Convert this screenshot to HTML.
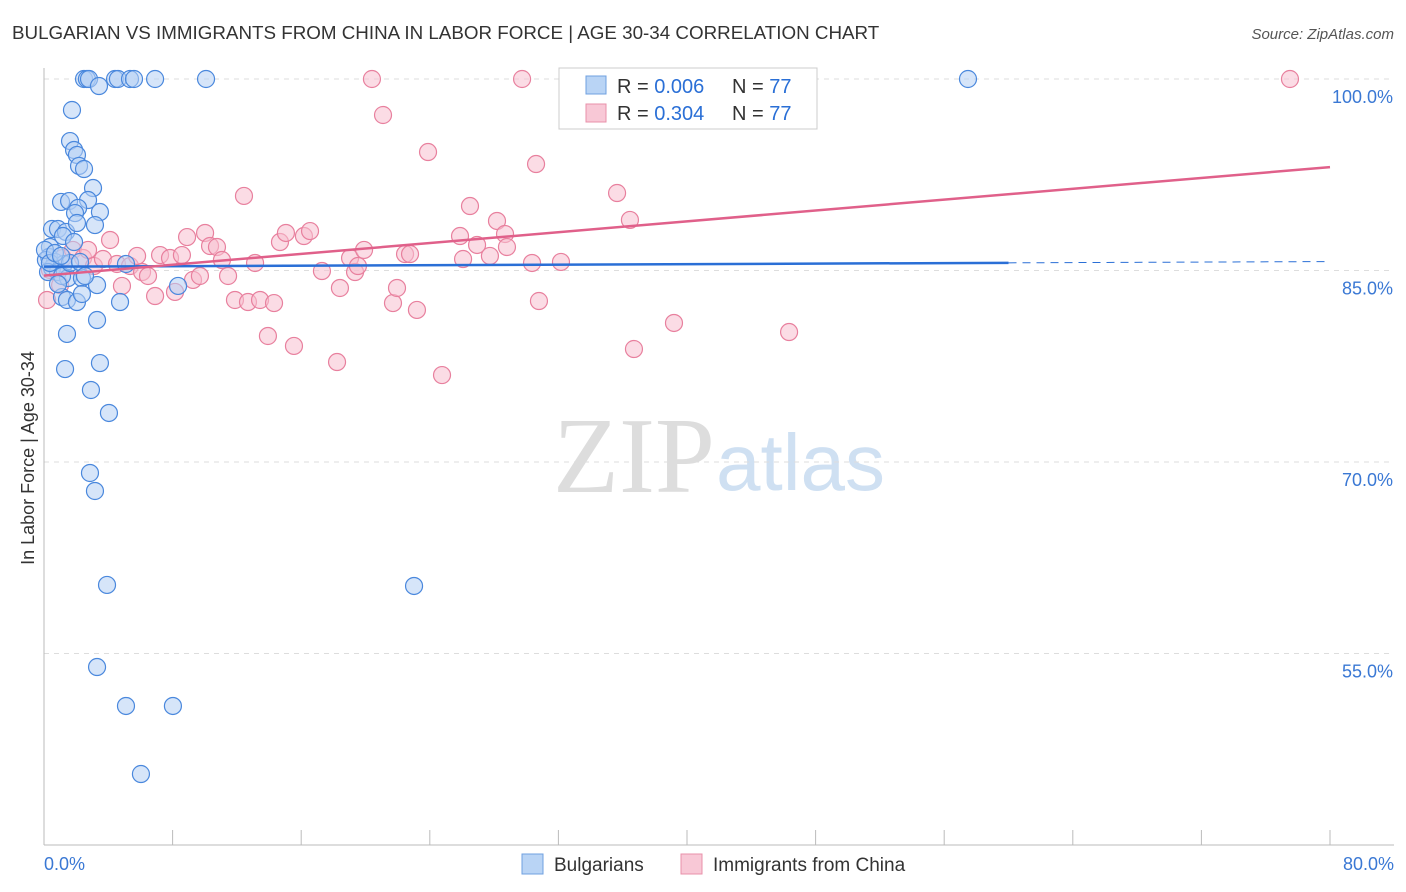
<!DOCTYPE html>
<html><head><meta charset="utf-8"><style>
body{margin:0;background:#fff;font-family:"Liberation Sans",sans-serif;}
svg{display:block}
</style></head><body>
<svg id="c" width="1406" height="892">
<text x="12" y="39" font-size="18.8" fill="#333">BULGARIAN VS IMMIGRANTS FROM CHINA IN LABOR FORCE | AGE 30-34 CORRELATION CHART</text>
<text x="1394" y="39" font-size="15" fill="#555" font-style="italic" text-anchor="end">Source: ZipAtlas.com</text>
<text x="34" y="458" font-size="18" fill="#333" text-anchor="middle" transform="rotate(-90 34 458)">In Labor Force | Age 30-34</text>
<text x="553" y="492" font-size="108" fill="#ddd" font-family="Liberation Serif,serif">ZIP</text>
<text x="716" y="490" font-size="80" fill="#cfe0f2">atlas</text>
<g id="grid"></g><g id="pts"></g><g id="lines"></g>
<g>
<rect x="559" y="68" width="258" height="61" fill="#fff" stroke="#ccc"/>
<rect x="586" y="76" width="20" height="18" fill="#b9d4f5" stroke="#6fa0e0"/>
<text x="617" y="93" font-size="20" fill="#333">R = <tspan fill="#2a6fd6">0.006</tspan></text>
<text x="732" y="93" font-size="20" fill="#333">N = <tspan fill="#2a6fd6">77</tspan></text>
<rect x="586" y="104" width="20" height="18" fill="#f8c8d6" stroke="#e890aa"/>
<text x="617" y="120" font-size="20" fill="#333">R = <tspan fill="#2a6fd6">0.304</tspan></text>
<text x="732" y="120" font-size="20" fill="#333">N = <tspan fill="#2a6fd6">77</tspan></text>
</g>
<g>
<rect x="522" y="854" width="21" height="20" fill="#b9d4f5" stroke="#6fa0e0"/>
<text x="554" y="871" font-size="19" fill="#333">Bulgarians</text>
<rect x="681" y="854" width="21" height="20" fill="#f8c8d6" stroke="#e890aa"/>
<text x="713" y="871" font-size="19" fill="#333">Immigrants from China</text>
</g>
</svg>
<script>
const X0=44,X1=1330,Y100=79,PXY=191.5/15;
const xTicks=[0,8,16,24,32,40,48,56,64,72,80];
const yTicks=[100,85,70,55];
const bluePx=[[84,79],[87,79],[89,79],[99,86],[115,79],[118,79],[130,79],[134,79],[155,79],[206,79],[968,79],[72,110],[70,141],[74,150],[77,155],[79,166],[84,169],[93,188],[61,202],[69,201],[88,200],[78,208],[75,213],[100,212],[52,229],[58,229],[66,232],[63,236],[77,223],[95,225],[74,242],[50,247],[49,257],[55,262],[64,264],[52,268],[58,272],[68,278],[82,278],[97,285],[62,297],[67,300],[77,302],[82,294],[120,302],[126,264],[97,320],[67,334],[65,369],[100,363],[91,390],[109,413],[90,473],[95,491],[107,585],[414,586],[97,667],[126,706],[173,706],[141,774],[178,286],[46,260],[48,272],[62,276],[58,284],[45,250],[50,263],[55,253],[70,263],[61,256],[80,262],[85,276]];
const pinkPx=[[47,300],[50,270],[56,267],[60,285],[63,258],[73,250],[83,258],[88,250],[94,266],[103,259],[110,240],[117,264],[122,286],[130,266],[137,256],[142,272],[148,276],[155,296],[160,255],[170,258],[175,292],[182,255],[187,237],[193,280],[200,276],[205,233],[210,246],[217,247],[222,260],[228,276],[235,300],[244,196],[248,302],[255,263],[260,300],[268,336],[274,303],[280,242],[286,233],[294,346],[304,236],[310,231],[322,271],[337,362],[340,288],[350,258],[355,272],[358,266],[364,250],[372,79],[383,115],[393,303],[397,288],[405,254],[410,254],[417,310],[428,152],[442,375],[460,236],[463,259],[470,206],[477,245],[490,256],[497,221],[505,234],[507,247],[522,79],[532,263],[536,164],[539,301],[561,262],[573,79],[617,193],[630,220],[634,349],[674,323],[789,332],[1290,79]];
const blueX=bluePx.map(p=>+((p[0]-X0)/(X1-X0)*80).toFixed(2));
const blueY=bluePx.map(p=>+(100-(p[1]-Y100)/PXY).toFixed(2));
const pinkX=pinkPx.map(p=>+((p[0]-X0)/(X1-X0)*80).toFixed(2));
const pinkY=pinkPx.map(p=>+(100-(p[1]-Y100)/PXY).toFixed(2));
const blueTrend=[[0,85.3],[60,85.6],[80,85.7]];
const pinkTrend=[[0,84.6],[80,93.1]];
const sx=v=>X0+v/80*(X1-X0), sy=v=>Y100+(100-v)*PXY;
const NS='http://www.w3.org/2000/svg';
function mk(t,a,p){const e=document.createElementNS(NS,t);for(const k in a)e.setAttribute(k,a[k]);p.appendChild(e);return e;}
const g=document.getElementById('grid');
yTicks.forEach(v=>{
 const l=mk('line',{x1:X0,x2:1394,y1:sy(v),y2:sy(v),stroke:'#ddd','stroke-dasharray':'5,5'},g);
 
 
 const t=mk('text',{x:1393,y:sy(v)+24,'font-size':18,fill:'#3a78d4','text-anchor':'end'},g);t.textContent=v.toFixed(1)+'%';
 
 
});
mk('line',{x1:X0,x2:X0,y1:68,y2:845,stroke:'#bbb'},g);
mk('line',{x1:X0,x2:1394,y1:845,y2:845,stroke:'#bbb'},g);
xTicks.forEach(v=>{
 const l=mk('line',{x1:sx(v),x2:sx(v),y1:830,y2:845,stroke:'#bbb'},g);
 
 
});
[[0,'0.0%','start',44],[80,'80.0%','end',1394]].forEach(([v,s,a,x])=>{
 const t=mk('text',{x:x,y:870,'font-size':18,fill:'#3a78d4','text-anchor':a},g);t.textContent=s;
 
 
});
const P=document.getElementById('pts');
function pts(xs,ys,fill,stroke,name){xs.forEach((x,i)=>{
 const c=mk('circle',{cx:sx(x),cy:sy(ys[i]),r:8.5,fill:fill,'fill-opacity':0.55,stroke:stroke,'stroke-width':1.2},P);
 
 
});}
pts(pinkX,pinkY,'#f8c0d0','#e8809e','china-point');
pts(blueX,blueY,'#b4d0f4','#4a88dd','bulgarian-point');
const L=document.getElementById('lines');
let a=mk('line',{x1:sx(blueTrend[0][0]),y1:sy(blueTrend[0][1]),x2:sx(blueTrend[1][0]),y2:sy(blueTrend[1][1]),stroke:'#2a6fd6','stroke-width':2.5},L);


a=mk('line',{x1:sx(blueTrend[1][0]),y1:sy(blueTrend[1][1]),x2:sx(blueTrend[2][0]),y2:sy(blueTrend[2][1]),stroke:'#2a6fd6','stroke-width':1,'stroke-dasharray':'8,6'},L);


a=mk('line',{x1:sx(pinkTrend[0][0]),y1:sy(pinkTrend[0][1]),x2:sx(pinkTrend[1][0]),y2:sy(pinkTrend[1][1]),stroke:'#e0608a','stroke-width':2.5},L);


</script>
</body></html>
